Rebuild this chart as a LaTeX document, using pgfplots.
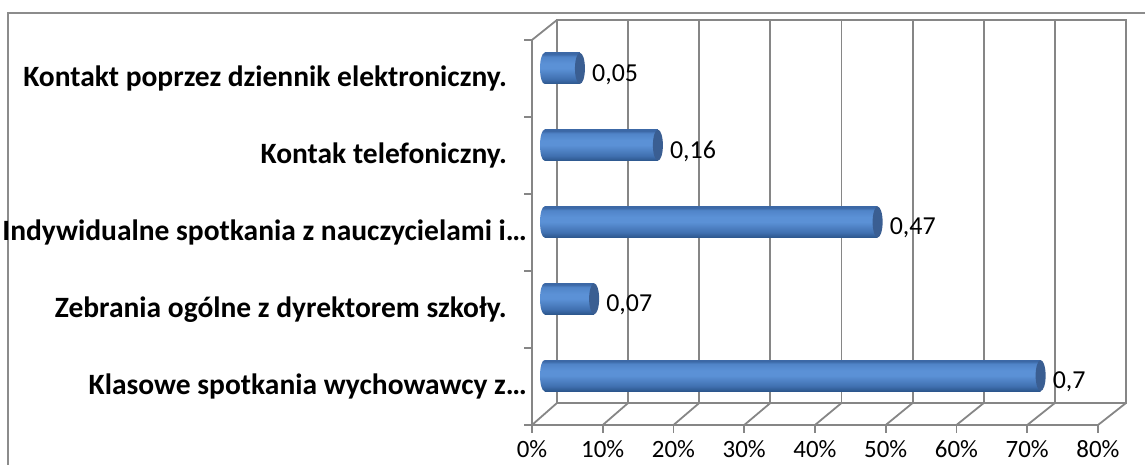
\documentclass[border=0pt]{standalone}
\usepackage{pgfplots}
\pgfplotsset{compat=1.18}
\usepackage{fontspec}
\setmainfont{Carlito}
\definecolor{gridc}{RGB}{134,134,134}
\definecolor{framec}{RGB}{140,140,140}
\definecolor{capc}{RGB}{58,94,146}
\definecolor{bbot}{RGB}{44,86,140}
\definecolor{blow}{RGB}{64,112,176}
\definecolor{bmid}{RGB}{91,145,214}
\definecolor{bup}{RGB}{80,132,200}
\definecolor{btop}{RGB}{60,104,166}
\pgfdeclareverticalshading{barshade}{100bp}{color(0bp)=(bbot); color(25bp)=(bbot); color(33bp)=(blow); color(50bp)=(bmid); color(58bp)=(bmid); color(69bp)=(bup); color(73bp)=(btop); color(75bp)=(btop); color(100bp)=(btop)}
\pgfdeclareplotmark{capR}{\pgfpathellipse{\pgfpointorigin}{\pgfqpoint{5bp}{0bp}}{\pgfqpoint{0bp}{15.5bp}}\pgfusepathqfill}
\pgfdeclareplotmark{capL}{\pgfpathellipse{\pgfpointorigin}{\pgfqpoint{4.5bp}{0bp}}{\pgfqpoint{0bp}{15.5bp}}\pgfshadepath{barshade}{0}\pgfusepath{}}
\newcommand{\gap}{\rule{20bp}{0pt}}
\begin{document}
\begin{tikzpicture}[x=1bp,y=1bp]
\useasboundingbox (0,0) rectangle (1145,465);
\clip (0,0) rectangle (1145,465);
% outer frame
\draw[framec, line width=2bp] (8,-5) -- (8,451.5) -- (1160,451.5);
% back plane
\begin{axis}[at={(557bp,62bp)}, anchor=south west, width=569bp, height=383bp, scale only axis,
  xmin=0, xmax=0.8, ymin=0, ymax=1,
  xtick={0,0.1,0.2,0.3,0.4,0.5,0.6,0.7,0.8}, xticklabels={}, ytick=\empty,
  major tick length=0pt, xmajorgrids, grid style={gridc, line width=1.8bp},
  axis line style={gridc, line width=1.8bp}]
\addplot[draw=none] coordinates {(0,0)};
\end{axis}
% floor diagonals and wall top
\foreach \k in {0,...,8} {\draw[gridc, line width=1.8bp] ({532+\k*70.75},40) -- ({557+\k*71.125},62);}
\draw[gridc, line width=1.8bp] (532,425) -- (557,445);
% front plane (axes, ticks, labels)
\begin{axis}[at={(532bp,40bp)}, anchor=south west, width=566bp, height=385bp, scale only axis,
  xmin=0, xmax=0.8, ymin=-0.5, ymax=4.5,
  axis x line*=bottom, axis y line*=left,
  axis line style={gridc, line width=1.8bp, -},
  tick align=outside, major tick length=8bp, minor tick length=8bp,
  tick style={gridc, line width=1.8bp},
  xtick={0,0.1,0.2,0.3,0.4,0.5,0.6,0.7,0.8},
  xticklabels={0\%,10\%,20\%,30\%,40\%,50\%,60\%,70\%,80\%},
  xticklabel style={font=\fontsize{25}{30}\selectfont, text=black, yshift=-4bp},
  ytick={0,1,2,3,4},
  yticklabels={Klasowe spotkania wychowawcy z…,
    Zebrania ogólne z dyrektorem szkoły.\gap,
    Indywidualne spotkania z nauczycielami i…,
    Kontak telefoniczny.\gap,
    Kontakt poprzez dziennik elektroniczny.\gap},
  minor ytick={-0.5,0.5,1.5,2.5,3.5,4.5},
  every major y tick/.append style={draw=none},
  yticklabel style={font=\bfseries\fontsize{29.6}{34}\selectfont, text=black, anchor=east, inner sep=0pt, xshift=3bp}]
\addplot[draw=none] coordinates {(0,0)};
\end{axis}
% bars at mid depth
\begin{axis}[at={(544.5bp,51bp)}, anchor=south west, width=567bp, height=384bp, scale only axis,
  xmin=0, xmax=0.8, ymin=-0.5, ymax=4.5, hide axis, clip=false,
  /pgf/number format/.cd, use comma, fixed, precision=2, assume math mode=true]
\addplot[only marks, mark=capL] coordinates {(0,0) (0,1) (0,2) (0,3) (0,4)};
\addplot[xbar, bar width=31bp, bar shift=0pt, draw=none, shade, shading=barshade] coordinates {(0.7,0)};
\addplot[xbar, bar width=31bp, bar shift=0pt, draw=none, shade, shading=barshade] coordinates {(0.07,1)};
\addplot[xbar, bar width=31bp, bar shift=0pt, draw=none, shade, shading=barshade] coordinates {(0.47,2)};
\addplot[xbar, bar width=31bp, bar shift=0pt, draw=none, shade, shading=barshade] coordinates {(0.16,3)};
\addplot[xbar, bar width=31bp, bar shift=0pt, draw=none, shade, shading=barshade] coordinates {(0.05,4)};
\addplot[only marks, mark=capR, mark options={fill=capc, draw=none},
  point meta=x, nodes near coords,
  nodes near coords style={anchor=west, inner sep=0pt, xshift=12bp, yshift=-6bp, text=black, font=\fontsize{26}{30}\selectfont}]
  coordinates {(0.7,0) (0.07,1) (0.47,2) (0.16,3) (0.05,4)};
\end{axis}
\end{tikzpicture}
\end{document}
